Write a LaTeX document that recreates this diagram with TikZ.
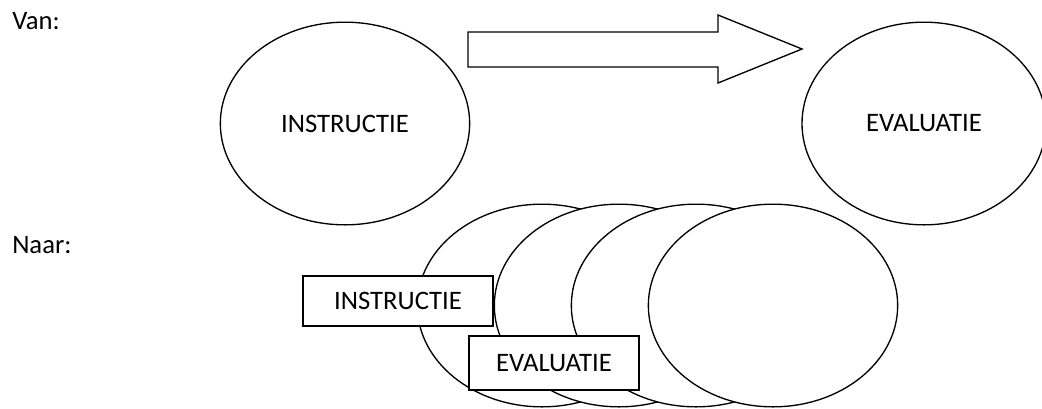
\documentclass[tikz,border=0pt]{standalone}
\usepackage{fontspec}
\setmainfont{Carlito}
\usetikzlibrary{shapes.geometric}

\begin{document}
\begin{tikzpicture}[x=0.75pt, y=-0.75pt]
    %tikz van/naar
\tikzset{
    bol/.style={ellipse, draw, fill=white, line width=1pt, minimum width=187pt, minimum height=152pt, inner sep=0pt, font=\fontsize{20}{24}\selectfont},
    kader/.style={rectangle, draw, fill=white, line width=1pt, inner sep=0pt, font=\fontsize{20}{24}\selectfont},
    opschrift/.style={anchor=base west, inner sep=0pt, font=\fontsize{20}{24}\selectfont}
}
    \useasboundingbox (0,0) rectangle (1042,408);

    \node[opschrift](Van) at (12,29) {Van:};
    \node[opschrift](Naar) at (12,253) {Naar:};

    \node[bol](Instructie) at (345,123.5) {INSTRUCTIE};
    \node[bol, minimum width=183pt](Evaluatie) at (924,123.5) {EVALUATIE};
    \draw[line width=1pt, line join=miter] (468,32) -- (718,32) -- (718,15) -- (802,49) -- (718,83) -- (718,67) -- (468,67) -- cycle;

    \foreach \i/\x in {1/542, 2/619, 3/696, 4/773}
        \node[bol](Cyclus\i) at (\x,305.5) {};

    \node[kader, minimum width=142.5pt, minimum height=37.5pt](InstrKader) at (398,301) {INSTRUCTIE};
    \node[kader, minimum width=127.5pt, minimum height=40.5pt](EvalKader) at (554,363) {EVALUATIE};
\end{tikzpicture}
\end{document}
